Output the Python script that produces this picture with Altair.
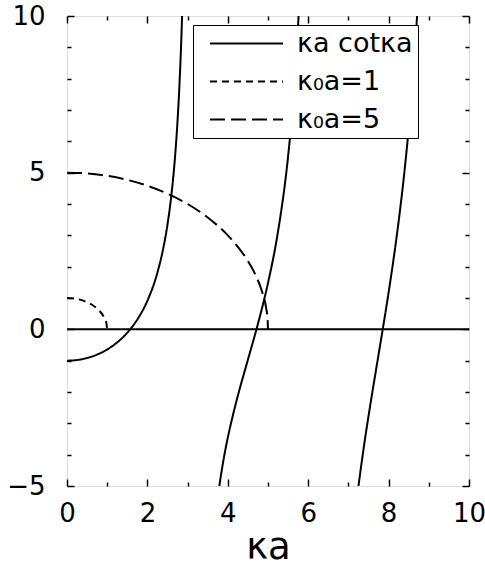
import altair as alt
import pandas as pd

# Sampled values of -κa·cot(κa), one pair of lists per continuous branch
branch1_x = [0.0, 0.25, 0.5, 0.75, 1.0, 1.25, 1.5, 1.75, 2.0, 2.25, 2.4, 2.5, 2.6, 2.7, 2.75, 2.8, 2.85, 2.87]
branch1_y = [-1.0, -0.979, -0.915, -0.805, -0.642, -0.415, -0.106, 0.317, 0.915, 1.817, 2.620, 3.347, 4.322,
             5.712, 6.660, 7.876, 9.494, 10.305]

branch2_x = [3.75, 3.8, 3.9, 4.0, 4.1, 4.25, 4.5, 4.75, 5.0, 5.25, 5.5, 5.6, 5.7, 5.75, 5.8]
branch2_y = [-5.379, -4.913, -4.117, -3.455, -2.886, -2.118, -0.971, 0.179, 1.479, 3.129, 5.524, 6.877,
             8.635, 9.74, 11.05]

branch3_x = [7.2, 7.25, 7.4, 7.5, 7.6, 7.75, 7.9, 8.0, 8.1, 8.25, 8.4, 8.5, 8.6, 8.7, 8.75]
branch3_y = [-5.519, -5.011, -3.611, -2.772, -1.973, -0.809, 0.364, 1.176, 2.034, 3.450, 5.104, 6.409,
             7.947, 9.823, 10.94]

# Quarter circles sqrt((κ0 a)^2 - (κa)^2)
circle1_x = [0.0, 0.2, 0.4, 0.6, 0.7, 0.8, 0.9, 0.95, 0.98, 1.0]
circle1_y = [1.0, 0.980, 0.917, 0.8, 0.714, 0.6, 0.436, 0.312, 0.199, 0.0]

circle5_x = [0.0, 0.5, 1.0, 1.5, 2.0, 2.5, 3.0, 3.5, 4.0, 4.25, 4.5, 4.7, 4.85, 4.95, 4.99, 5.0]
circle5_y = [5.0, 4.975, 4.899, 4.770, 4.583, 4.330, 4.0, 3.571, 3.0, 2.634, 2.179, 1.706, 1.216, 0.705,
             0.316, 0.0]

# Horizontal reference line at zero
zero_x = [0.0, 10.0]
zero_y = [0.0, 0.0]

series_names = ["κa cotκa", "κ₀a=1", "κ₀a=5"]
series_dash = [[1, 0], [7, 5], [15, 6]]

x_major = [0, 2, 4, 6, 8, 10]
x_minor = [1, 3, 5, 7, 9]
y_major = [-5, 0, 5, 10]
y_minor = [-4, -3, -2, -1, 1, 2, 3, 4, 6, 7, 8, 9]

rows = []
for name, branch, xs, ys in [
    (series_names[0], "b1", branch1_x, branch1_y),
    (series_names[0], "b2", branch2_x, branch2_y),
    (series_names[0], "b3", branch3_x, branch3_y),
    (series_names[1], "c1", circle1_x, circle1_y),
    (series_names[2], "c5", circle5_x, circle5_y),
]:
    for xv, yv in zip(xs, ys):
        rows.append({"x": xv, "y": yv, "series": name, "branch": branch})
curves = pd.DataFrame(rows)
zero = pd.DataFrame({"x": zero_x, "y": zero_y})

W, H = 402, 470
FONT = "DejaVu Sans"
LABEL_SIZE = 26
x_scale = alt.Scale(domain=[0, 10], nice=False, zero=False)
y_scale = alt.Scale(domain=[-5, 10], nice=False, zero=False)


def label_axis(orient, values, padding, title=None):
    """Tick labels only; the frame comes from the view stroke."""
    kw = dict(
        orient=orient,
        values=values,
        ticks=False,
        tickSize=0,
        domain=False,
        grid=False,
        labelFont=FONT,
        labelFontSize=LABEL_SIZE,
        labelColor="black",
        labelPadding=padding,
        labelOverlap=False,
        labelFlush=False,
        format="d",
    )
    if title is not None:
        kw.update(title=title, titleFont=FONT, titleFontSize=37, titleFontWeight="normal",
                  titleColor="black", titleBaseline="alphabetic", titleY=72)
    else:
        kw.update(title=None)
    return alt.Axis(**kw)


def tick_axis(orient, values, length, offset):
    """Ticks pointing into the plot: an axis of the opposite side shifted across the view."""
    return alt.Axis(
        orient=orient,
        offset=offset,
        values=values,
        labels=False,
        domain=False,
        grid=False,
        ticks=True,
        tickSize=length,
        tickWidth=1.5,
        tickColor="black",
        title=None,
    )


lines = alt.Chart(curves).mark_line(
    clip=True, color="black", strokeWidth=2, interpolate="monotone"
).encode(
    x=alt.X("x:Q", scale=x_scale, axis=label_axis("bottom", x_major, 14, "κa")),
    y=alt.Y("y:Q", scale=y_scale, axis=label_axis("left", y_major, 22)),
    strokeDash=alt.StrokeDash(
        "series:N",
        scale=alt.Scale(domain=series_names, range=series_dash),
        legend=alt.Legend(
            title=None,
            orient="none",
            legendX=126,
            legendY=9,
            fillColor="white",
            strokeColor="black",
            padding=5,
            symbolType="M-3,0H3",
            symbolSize=592,
            symbolStrokeWidth=2,
            symbolStrokeColor="black",
            symbolOffset=35,
            labelFont=FONT,
            labelFontSize=27,
            labelColor="black",
            labelOffset=37,
            rowPadding=10,
            labelLimit=400,
        ),
    ),
    detail="branch:N",
)

# The zero line, drawn once and visibly
zero_line = alt.Chart(zero).mark_line(color="black", strokeWidth=2).encode(
    x=alt.X("x:Q", scale=x_scale, axis=None),
    y=alt.Y("y:Q", scale=y_scale, axis=None),
)


def tick_layer(x_axis, y_axis):
    # carries only axes; its own line is transparent
    return alt.Chart(zero).mark_line(strokeOpacity=0).encode(
        x=alt.X("x:Q", scale=x_scale, axis=x_axis),
        y=alt.Y("y:Q", scale=y_scale, axis=y_axis),
    )


chart = (
    alt.layer(
        lines,
        zero_line,
        # bottom edge / left edge, major then minor
        tick_layer(tick_axis("top", x_major, 7, -H), tick_axis("right", y_major, 7, -W)),
        tick_layer(tick_axis("top", x_minor, 4, -H), tick_axis("right", y_minor, 4, -W)),
        # top edge / right edge, major then minor
        tick_layer(tick_axis("bottom", x_major, 7, -H), tick_axis("left", y_major, 7, -W)),
        tick_layer(tick_axis("bottom", x_minor, 4, -H), tick_axis("left", y_minor, 4, -W)),
    )
    .resolve_axis(x="independent", y="independent")
    .properties(
        width=W,
        height=H,
        autosize=alt.AutoSizeParams(type="none"),
        padding={"left": 67, "top": 16, "right": 16, "bottom": 80},
    )
    .configure_view(stroke="black", strokeWidth=2)
    .configure(background="white")
)

chart.save("out.html", embed_options={"renderer": "svg", "actions": False})
